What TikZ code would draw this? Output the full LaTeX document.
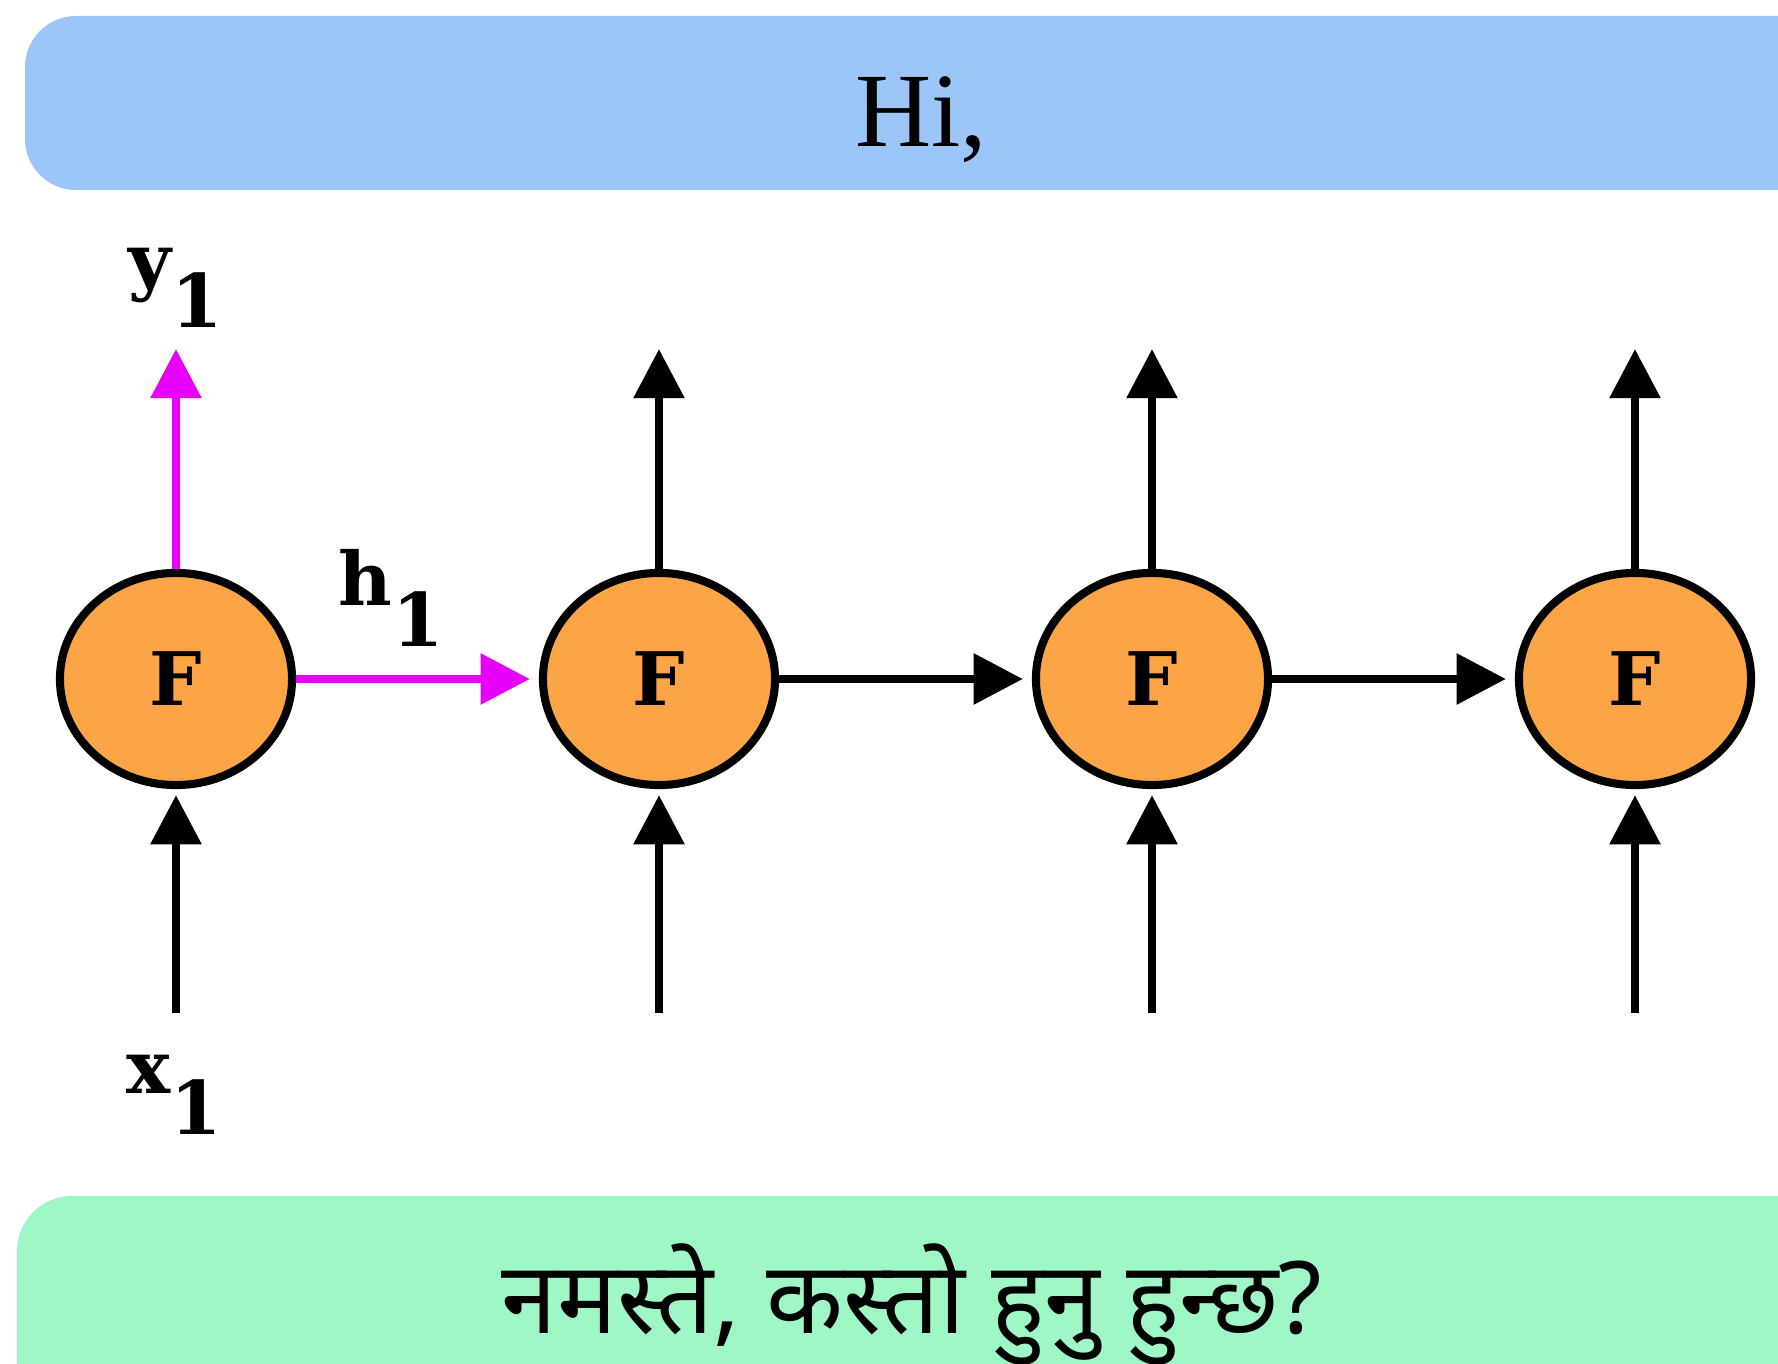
\documentclass[tikz,border=0pt]{standalone}
\usepackage{fontspec}
\setmainfont{Liberation Serif}
\newfontfamily\lblfont{DejaVu Serif}
\newfontfamily\nepfont[Script=Devanagari]{Noto Sans}
\usetikzlibrary{arrows.meta,shapes.geometric}
\definecolor{barblue}{RGB}{157,198,248}
\definecolor{bargreen}{RGB}{158,247,196}
\definecolor{cellorange}{RGB}{251,165,70}
\definecolor{hmagenta}{RGB}{230,0,250}
\begin{document}
\begin{tikzpicture}[x=0.01cm, y=-0.01cm, line join=round,
		>={Triangle[length=14pt,width=14pt]},
		cell/.style={ellipse, draw, line width=2.3pt, fill=cellorange, minimum width=2.32cm, minimum height=2.12cm, inner sep=0pt, font=\lblfont\bfseries\fontsize{21}{25}\selectfont},
		lbl/.style={inner sep=0pt, font=\lblfont\bfseries\fontsize{21}{25}\selectfont},
		flow/.style={->, line width=2.4pt},
		hid/.style={flow, draw=hmagenta, fill=hmagenta}]
	\useasboundingbox (0,0) rectangle (1778,1364);
	\clip (0,0) rectangle (1778,1364);
	% bars
	\fill[barblue, rounded corners=0.51cm] (25,16) rectangle (1900,190);
	\fill[bargreen, rounded corners=0.55cm] (17,1196) rectangle (1900,1450);
	\node[anchor=base, inner sep=0pt, font=\fontsize{30}{36}\selectfont] (hi) at (921,147) {Hi,};
	\node[anchor=base, inner sep=0pt, font=\nepfont\fontsize{28.5}{34}\selectfont] (nep) at (912,1333) {नमस्ते, कस्तो हुनु हुन्छ?};
	% cells
	\foreach \n/\x in {1/176,2/659,3/1152,4/1635}{
		\node[cell] (f\n) at (\x,679) {F};
		\coordinate (o\n) at (\x,349);
		\coordinate (i\n) at (\x,1013);
	}
	\draw[hid] (f1.north) -- (o1);
	\foreach \n in {2,3,4} \draw[flow] (f\n.north) -- (o\n);
	\foreach \n in {1,...,4} \draw[flow, shorten >=0.06cm] (i\n) -- (f\n.south);
	\draw[hid, shorten >=0.09cm] (f1) -- (f2);
	\draw[flow, shorten >=0.09cm] (f2) -- (f3);
	\draw[flow, shorten >=0.09cm] (f3) -- (f4);
	% labels
	\node[lbl] (ylab) at (176,288) {y\raisebox{-0.55em}{1}};
	\node[lbl] (hlab) at (391,598) {h\raisebox{-0.55em}{1}};
	\node[lbl] (xlab) at (174,1095) {x\raisebox{-0.55em}{1}};
\end{tikzpicture}
\end{document}
